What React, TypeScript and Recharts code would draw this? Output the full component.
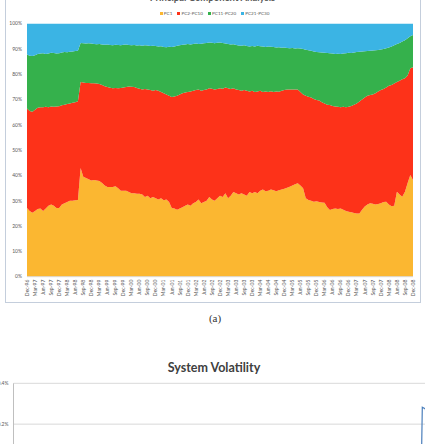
import React from 'react';
import { AreaChart, Area, XAxis, YAxis, LineChart, Line, CartesianGrid } from 'recharts';

// quarterly axis labels, Dec-96 .. Dec-08 (one every 3 months)
const quarterLabels = [
  'Dec-96', 'Mar-97', 'Jun-97', 'Sep-97', 'Dec-97', 'Mar-98', 'Jun-98', 'Sep-98', 'Dec-98',
  'Mar-99', 'Jun-99', 'Sep-99', 'Dec-99', 'Mar-00', 'Jun-00', 'Sep-00', 'Dec-00',
  'Mar-01', 'Jun-01', 'Sep-01', 'Dec-01', 'Mar-02', 'Jun-02', 'Sep-02', 'Dec-02',
  'Mar-03', 'Jun-03', 'Sep-03', 'Dec-03', 'Mar-04', 'Jun-04', 'Sep-04', 'Dec-04',
  'Mar-05', 'Jun-05', 'Sep-05', 'Dec-05', 'Mar-06', 'Jun-06', 'Sep-06', 'Dec-06',
  'Mar-07', 'Jun-07', 'Sep-07', 'Dec-07', 'Mar-08', 'Jun-08', 'Sep-08', 'Dec-08',
];

// monthly cumulative levels (% of variance), month 0 = Dec-96
const pc1Level = [
  27.2, 26.0, 25.3, 26.0, 26.8, 27.0, 26.0, 27.0, 28.0, 28.5, 28.0, 27.2,
  27.2, 28.5, 29.0, 29.5, 30.0, 30.0, 30.2, 30.3, 43.0, 39.5, 39.0, 38.5,
  38.0, 38.2, 38.0, 37.8, 37.0, 36.0, 35.5, 35.5, 35.5, 35.8, 35.0, 34.0,
  34.0, 34.0, 33.5, 33.0, 33.0, 32.8, 32.8, 32.5, 31.5, 32.0, 31.0, 31.5,
  31.0, 30.5, 31.0, 30.2, 30.5, 29.5, 27.2, 27.0, 26.5, 27.0, 27.5, 28.0,
  28.5, 28.0, 29.0, 29.5, 30.5, 29.0, 29.5, 30.0, 31.5, 30.5, 30.0, 31.0,
  32.0, 31.5, 33.0, 31.0, 32.0, 33.5, 33.0, 32.5, 33.0, 32.5, 32.0, 33.5,
  33.0, 33.5, 33.0, 34.0, 34.5, 33.8, 34.0, 34.5, 34.2, 33.8, 34.2, 34.5,
  34.8, 35.2, 35.6, 36.0, 36.5, 36.9, 36.0, 35.0, 31.0, 30.3, 30.0, 29.6,
  29.8, 29.5, 29.3, 29.2, 27.5, 26.4, 26.8, 27.0, 26.8, 27.0, 26.5, 26.0,
  25.7, 25.5, 25.2, 25.0, 25.0, 26.5, 27.7, 28.5, 29.0, 28.8, 28.5, 28.7,
  29.0, 29.5, 29.6, 28.5, 27.8, 28.0, 33.6, 32.5, 31.6, 33.6, 37.0, 40.2,
  38.2,
];

const upToPc10 = [
  66.5, 65.5, 65.2, 66.0, 66.8, 67.0, 67.0, 67.2, 67.0, 67.3, 67.2, 67.3,
  67.4, 67.8, 68.0, 68.3, 68.5, 68.8, 69.0, 69.3, 77.0, 76.8, 76.6, 76.6,
  76.5, 76.5, 76.4, 76.2, 75.8, 75.3, 75.0, 74.7, 74.5, 74.6, 74.5, 74.6,
  74.8, 75.0, 75.2, 75.1, 75.0, 74.6, 74.3, 74.0, 74.2, 74.0, 73.8, 73.5,
  73.8, 73.5, 73.0, 72.5, 72.0, 71.5, 71.0, 71.2, 71.5, 72.0, 72.5, 72.8,
  73.0, 73.2, 73.5, 73.8, 74.0, 73.5, 73.8, 74.0, 74.5, 74.3, 74.0, 74.2,
  74.5, 74.3, 74.8, 74.5, 74.2, 74.5, 74.0, 73.8, 73.5, 73.8, 73.5, 73.2,
  73.5, 73.0, 73.2, 73.5, 73.0, 73.2, 73.0, 73.3, 73.0, 73.2, 73.1, 73.5,
  73.8, 74.0, 74.0, 74.0, 74.0, 74.0, 73.0, 72.0, 71.5, 71.1, 70.8, 70.2,
  69.8, 69.6, 69.0, 68.5, 68.0, 67.9, 67.5, 67.3, 67.2, 67.0, 67.2, 67.0,
  67.2, 67.5, 68.0, 68.5, 69.2, 70.0, 70.8, 71.5, 71.8, 72.0, 72.5, 73.2,
  73.8, 74.2, 74.8, 75.5, 75.8, 76.4, 77.0, 77.5, 78.0, 78.4, 79.5, 82.4,
  82.8,
];

const upToPc20 = [
  87.8, 87.3, 87.2, 87.5, 88.0, 88.2, 88.3, 88.0, 88.2, 88.5, 88.4, 88.2,
  88.3, 88.6, 88.8, 88.7, 88.9, 89.0, 89.2, 89.3, 92.4, 92.3, 92.2, 92.3,
  92.2, 92.0, 91.9, 92.0, 91.8, 91.7, 91.8, 91.6, 91.5, 91.7, 91.6, 91.5,
  91.7, 91.8, 91.6, 91.5, 91.6, 91.4, 91.5, 91.3, 91.5, 91.4, 91.2, 91.3,
  91.2, 91.0, 91.1, 90.8, 90.7, 90.9, 90.8, 91.0, 91.3, 91.5, 91.7, 91.8,
  92.0, 91.8, 92.0, 92.2, 92.0, 92.1, 92.3, 92.4, 92.6, 92.5, 92.3, 92.5,
  92.6, 92.4, 92.2, 92.0, 91.8, 91.9, 91.6, 91.4, 91.3, 91.5, 91.2, 91.0,
  91.2, 91.0, 91.3, 91.1, 91.0, 90.8, 91.0, 90.9, 90.8, 90.6, 90.7, 90.5,
  90.6, 90.4, 90.3, 90.4, 90.2, 90.3, 90.2, 90.0, 89.7, 89.5, 89.3, 89.0,
  88.8, 88.7, 88.6, 88.5, 88.4, 88.3, 88.2, 88.0, 88.1, 88.0, 88.2, 88.3,
  88.5, 88.4, 88.6, 88.8, 88.9, 89.0, 89.1, 89.2, 89.3, 89.4, 89.5, 89.6,
  89.8, 90.0, 90.3, 90.6, 91.0, 91.5, 92.0, 92.4, 93.0, 93.5, 94.2, 95.0,
  95.5,
];

// system volatility (%), only the end of the series shows in the crop
const volMonths = [
  0, 6, 12, 18, 20, 24, 36, 48, 54, 60, 66, 72, 84, 96, 108, 120, 126, 132, 138, 140, 140.75, 141, 142, 143, 144,
];
const volValues = [
  0.04, 0.05, 0.05, 0.06, 0.09, 0.07, 0.06, 0.06, 0.08, 0.07, 0.08, 0.07, 0.05, 0.04, 0.04, 0.04, 0.05, 0.06, 0.07, 0.05, 0.06, 0.283, 0.275, 0.22, 0.18,
];

const colors = {
  pc1: '#fbb731',
  pc2: '#fd3219',
  pc11: '#35b14c',
  pc21: '#3bb4e4',
};

const legendItems = [
  { name: 'PC1', color: colors.pc1 },
  { name: 'PC2-PC10', color: colors.pc2 },
  { name: 'PC11-PC20', color: colors.pc11 },
  { name: 'PC21-PC30', color: colors.pc21 },
];

const FONT = 'Lato, "Open Sans", sans-serif';

const pcData = pc1Level.map((v, i) => ({
  m: i,
  pc1: v,
  pc2: upToPc10[i] - v,
  pc11: upToPc20[i] - upToPc10[i],
  pc21: 100 - upToPc20[i],
}));

const volData = volMonths.map((m, i) => ({ m, vol: volValues[i] }));

const quarterTicks = quarterLabels.map((_, i) => i * 3);

const MonthTick = (props: any) => {
  const { x, y, payload } = props;
  const label = quarterLabels[payload.value / 3];
  return (
    <text
      x={x + 1.8}
      y={y}
      transform={`rotate(-90 ${x + 1.8} ${y})`}
      textAnchor="end"
      fontSize={5}
      fill="#595959"
      fontFamily={FONT}
    >
      {label}
    </text>
  );
};

export default function App() {
  return (
    <div
      style={{
        position: 'absolute',
        left: 0,
        top: 0,
        width: 425,
        height: 444,
        overflow: 'hidden',
        background: '#fff',
        fontFamily: FONT,
      }}
    >
      {/* frame of the upper chart */}
      <div
        style={{
          position: 'absolute',
          left: 5,
          top: -4,
          width: 414,
          height: 305,
          border: '1px solid #c4cedc',
        }}
      />
      <div
        style={{
          position: 'absolute',
          left: 0,
          width: 425,
          top: -8,
          textAlign: 'center',
          fontSize: 9.5,
          fontWeight: 700,
          color: '#595959',
          lineHeight: '12px',
        }}
      >
        Principal Component Analysis
      </div>
      <div
        style={{
          position: 'absolute',
          left: 2,
          width: 425,
          top: 10,
          display: 'flex',
          justifyContent: 'center',
          fontSize: 4.6,
          color: '#595959',
          lineHeight: '6px',
        }}
      >
        {legendItems.map((it) => (
          <span key={it.name} style={{ display: 'flex', alignItems: 'center', margin: '0 2.5px' }}>
            <span style={{ width: 3, height: 3, background: it.color, marginRight: 1.2 }} />
            {it.name}
          </span>
        ))}
      </div>

      <div style={{ position: 'absolute', left: 0, top: 0 }}>
        <AreaChart
          width={425}
          height={302}
          data={pcData}
          margin={{ top: 23.7, right: 12, bottom: 0, left: 0 }}
        >
          <XAxis
            dataKey="m"
            type="number"
            domain={[0, 144]}
            ticks={quarterTicks}
            interval={0}
            tick={<MonthTick />}
            tickLine={false}
            axisLine={{ stroke: '#d9d9d9' }}
            tickSize={2}
            tickMargin={1}
            height={25.3}
          />
          <YAxis
            domain={[0, 100]}
            ticks={[0, 10, 20, 30, 40, 50, 60, 70, 80, 90, 100]}
            tickFormatter={(v: number) => `${v}%`}
            width={27}
            axisLine={false}
            tickLine={false}
            tickSize={3}
            tickMargin={2}
            tick={{ fontSize: 5, fill: '#595959', fontFamily: FONT }}
          />
          <Area type="linear" dataKey="pc1" stackId="1" fill={colors.pc1} stroke="none" fillOpacity={1} isAnimationActive={false} />
          <Area type="linear" dataKey="pc2" stackId="1" fill={colors.pc2} stroke="none" fillOpacity={1} isAnimationActive={false} />
          <Area type="linear" dataKey="pc11" stackId="1" fill={colors.pc11} stroke="none" fillOpacity={1} isAnimationActive={false} />
          <Area type="linear" dataKey="pc21" stackId="1" fill={colors.pc21} stroke="none" fillOpacity={1} isAnimationActive={false} />
        </AreaChart>
      </div>

      <div
        style={{
          position: 'absolute',
          left: 195,
          top: 312,
          width: 40,
          textAlign: 'center',
          fontFamily: '"Liberation Serif", "DejaVu Serif", serif',
          fontSize: 11,
          color: '#333',
        }}
      >
        (a)
      </div>

      <div
        style={{
          position: 'absolute',
          left: 0,
          width: 428,
          top: 360,
          textAlign: 'center',
          fontSize: 12.5,
          fontWeight: 700,
          color: '#404040',
          lineHeight: '15px',
        }}
      >
        System Volatility
      </div>

      <div style={{ position: 'absolute', left: 0, top: 370 }}>
        <LineChart
          width={441}
          height={95}
          data={volData}
          margin={{ top: 13.3, right: 10, bottom: 0, left: 0 }}
        >
          <CartesianGrid vertical={false} stroke="#d9d9d9" />
          <XAxis dataKey="m" type="number" domain={[0, 144]} hide />
          <YAxis
            domain={[0, 0.4]}
            ticks={[0, 0.2, 0.4]}
            tickFormatter={(v: number) => `${v.toFixed(1)}%`}
            width={13.5}
            axisLine={{ stroke: '#bfbfbf' }}
            tickLine={false}
            tickSize={3}
            tickMargin={2}
            tick={{ fontSize: 5, fill: '#595959', fontFamily: FONT }}
          />
          <Line
            type="linear"
            dataKey="vol"
            stroke="#4a7ebb"
            strokeWidth={1.2}
            dot={false}
            isAnimationActive={false}
          />
        </LineChart>
      </div>
    </div>
  );
}
